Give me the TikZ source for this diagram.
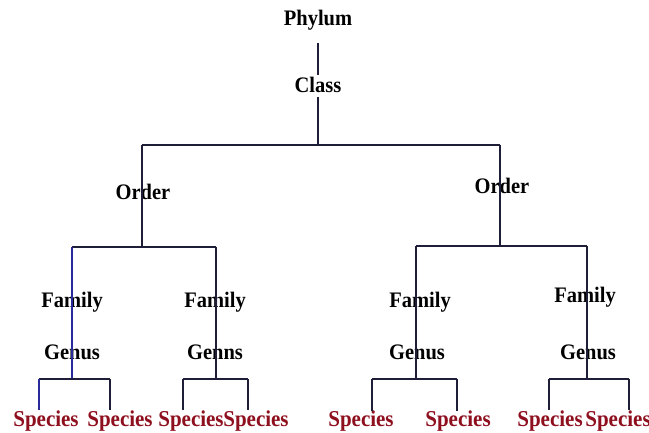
\documentclass[tikz,border=0pt]{standalone}
\usepackage{fontspec}
\setmainfont{Liberation Serif}
\definecolor{lncol}{HTML}{1E1E38}
\definecolor{bluecol}{HTML}{2A2A9A}
\definecolor{spcol}{HTML}{8E0F1E}
\begin{document}
\begin{tikzpicture}[x=1pt,y=-1pt,
  lbl/.style={font=\fontsize{20.5}{20.5}\selectfont\bfseries, text=black, inner sep=0pt, yscale=1.08},
  sp/.style={font=\fontsize{21}{21}\selectfont\bfseries, text=spcol, inner sep=0pt, yscale=1.08},
  ln/.style={draw=lncol, line width=2.8pt},
  bl/.style={draw=bluecol, line width=2.8pt}]
\clip (0,0) rectangle (649,433);
\useasboundingbox (0,0) rectangle (649,433);
\fill[white] (0,0) rectangle (649,433);
% nodes
\node[lbl] (phylum) at (318,20) {Phylum};
\node[lbl] (class) at (318,85) {Class};
\node[lbl] (ord1) at (143,192) {Order};
\node[lbl] (ord2) at (502,186) {Order};
\node[lbl] (fam1) at (72,302) {Family};
\node[lbl] (gen1) at (72,352) {Genus};
\node[lbl] (fam2) at (215,302) {Family};
\node[lbl] (gen2) at (215,352) {Genns};
\node[lbl] (fam3) at (420,302) {Family};
\node[lbl] (gen3) at (417,352) {Genus};
\node[lbl] (fam4) at (585,297) {Family};
\node[lbl] (gen4) at (588,352) {Genus};
\node[sp] (sp1) at (46,421) {Species};
\node[sp] (sp2) at (120,421) {Species};
\node[sp] (sp3) at (191,421) {Species};
\node[sp] (sp4) at (256,421) {Species};
\node[sp] (sp5) at (361,421) {Species};
\node[sp] (sp6) at (458,421) {Species};
\node[sp] (sp7) at (550,421) {Species};
\node[sp] (sp8) at (618,421) {Species};
% junction coordinates
\coordinate (pA) at (318,43);
\coordinate (pB) at (318,75);
\coordinate (cA) at (318,97);
\coordinate (t0) at (318,145);
\coordinate (tL) at (142,145);
\coordinate (tR) at (500,145);
\coordinate (oL) at (142,247);
\coordinate (oR) at (500,246);
\coordinate (h1a) at (72,247);
\coordinate (h1b) at (216,247);
\coordinate (h2a) at (416,246);
\coordinate (h2b) at (587,246);
\coordinate (g1) at (72,379);
\coordinate (g2) at (216,379);
\coordinate (g3) at (416,379);
\coordinate (g4) at (587,379);
\coordinate (s1) at (39,379);  \coordinate (e1) at (39,410);
\coordinate (s2) at (110,379); \coordinate (e2) at (110,410);
\coordinate (s3) at (183,379); \coordinate (e3) at (183,410);
\coordinate (s4) at (248,379); \coordinate (e4) at (248,410);
\coordinate (s5) at (372,379); \coordinate (e5) at (372,411);
\coordinate (s6) at (457,379); \coordinate (e6) at (457,411);
\coordinate (s7) at (549,379); \coordinate (e7) at (549,410);
\coordinate (s8) at (629,379); \coordinate (e8) at (629,410);
% connectors
\draw[ln] (pA) -- (pB);
\draw[ln] (cA) -- (t0);
\draw[ln] (tL) -- (tR);
\draw[ln] (tL) -- (oL);
\draw[ln] (tR) -- (oR);
\draw[ln] (h1a) -- (h1b);
\draw[ln] (h2a) -- (h2b);
\draw[bl] (h1a) -- (g1);
\draw[ln] (h1b) -- (g2);
\draw[ln] (h2a) -- (g3);
\draw[ln] (h2b) -- (g4);
\draw[ln] (s1) -- (s2);
\draw[ln] (s3) -- (s4);
\draw[ln] (s5) -- (s6);
\draw[ln] (s7) -- (s8);
\draw[bl] (s1) -- (e1);
\draw[ln] (s2) -- (e2);
\draw[ln] (s3) -- (e3);
\draw[ln] (s4) -- (e4);
\draw[ln] (s5) -- (e5);
\draw[ln] (s6) -- (e6);
\draw[ln] (s7) -- (e7);
\draw[ln] (s8) -- (e8);
\end{tikzpicture}
\end{document}
